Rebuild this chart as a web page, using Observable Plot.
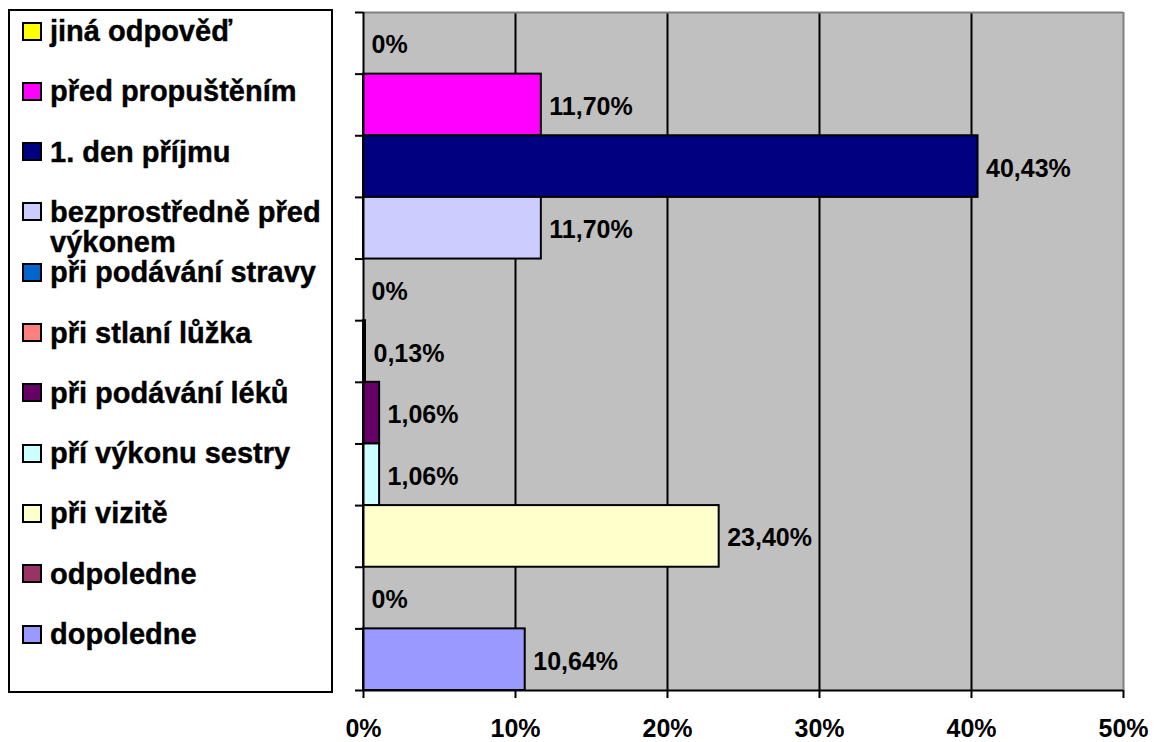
<!DOCTYPE html>
<html><head><meta charset="utf-8">
<script src="https://cdn.jsdelivr.net/npm/d3@7"></script>
<script src="https://cdn.jsdelivr.net/npm/@observablehq/plot@0.6"></script>
<style>
body{margin:0;background:#fff;font-family:"Liberation Sans",Arial,sans-serif;font-weight:bold;}
#wrap{position:relative;width:1159px;height:742px;overflow:hidden}
#chart{position:absolute;left:0;top:0}
#legend{position:absolute;left:8px;top:9px;width:325px;height:684px;border:2px solid #000;box-sizing:border-box;background:#fff}
.item{position:absolute;left:12px;display:flex;align-items:flex-start;font-size:29px;line-height:30px;color:#000;white-space:normal;-webkit-text-stroke:0.4px #000}
.sw{width:20px;height:19px;box-sizing:border-box;border:2px solid #000;margin-top:5.5px;margin-right:8px;flex:none}
.lbl{width:278px}
svg text{-webkit-text-stroke:0.35px #000}
</style></head>
<body><div id="wrap"><div id="chart"></div><div id="legend"></div></div>
<script>
// categories, top to bottom
const categories = ["jiná odpověď","před propuštěním","1. den příjmu","bezprostředně před výkonem","při podávání stravy","při stlaní lůžka","při podávání léků","pří výkonu sestry","při vizitě","odpoledne","dopoledne"];
const values = [0, 11.70, 40.43, 11.70, 0, 0.13, 1.06, 1.06, 23.40, 0, 10.64];
const colors = ["#ffff00","#ff00ff","#000080","#ccccff","#0066cc","#ff8080","#660066","#ccffff","#ffffcc","#993366","#9999ff"];
const xTicks = [0, 10, 20, 30, 40, 50];

const fmt = v => v === 0 ? "0%" : v.toFixed(2).replace(".", ",") + "%";
const data = categories.map((c, i) => ({c, i, v: values[i], label: fmt(values[i])}));
const n = categories.length;

const plot = Plot.plot({
  width: 1159, height: 742,
  marginLeft: 363, marginRight: 36, marginTop: 12, marginBottom: 52,
  style: {fontFamily: '"Liberation Sans", Arial, sans-serif', fontWeight: "bold", fontSize: "25px", color: "#000", background: "transparent", overflow: "visible"},
  x: {domain: [0, 50]},
  y: {domain: [n, 0]},
  color: {domain: categories, range: colors},
  marks: [
    Plot.frame({fill: "#c0c0c0", stroke: null}),
    Plot.ruleX(xTicks.slice(1, -1), {stroke: "#000", strokeWidth: 2}),
    Plot.ruleX([50], {stroke: "#808080", strokeWidth: 2}),
    Plot.ruleY([0], {stroke: "#808080", strokeWidth: 2}),
    Plot.rect(data.filter(d => d.v > 0), {x1: d => 0, x2: "v", y1: "i", y2: d => d.i + 1, fill: "c", stroke: "#000", strokeWidth: 2}),
    Plot.ruleX([0], {stroke: "#000", strokeWidth: 2}),
    Plot.ruleY([n], {stroke: "#000", strokeWidth: 2}),
    Plot.axisX({ticks: xTicks, tickSize: 8, tickPadding: 21, tickFormat: d => d + "%", strokeWidth: 2, fontSize: 25, label: null}),
    Plot.axisY({ticks: d3.range(0, n + 1), tickSize: 8, tickFormat: () => "", strokeWidth: 2, label: null}),
    Plot.text(data, {x: "v", y: d => d.i + 0.5, text: "label", dx: 8, dy: 2, textAnchor: "start", fontSize: 25, fontWeight: "bold", fill: "#000"})
  ]
});
document.getElementById("chart").appendChild(plot);

// legend (HTML, left of the plot area)
const legend = document.getElementById("legend");
categories.forEach((c, i) => {
  const center = 31 + i * 60.3;           // absolute swatch centre
  const item = document.createElement("div");
  item.className = "item";
  item.style.top = (center - 15 - 11) + "px";
  const sw = document.createElement("div");
  sw.className = "sw";
  sw.style.background = colors[i];
  const lbl = document.createElement("div");
  lbl.className = "lbl";
  lbl.textContent = c;
  item.appendChild(sw); item.appendChild(lbl);
  legend.appendChild(item);
});
</script>
</body></html>
